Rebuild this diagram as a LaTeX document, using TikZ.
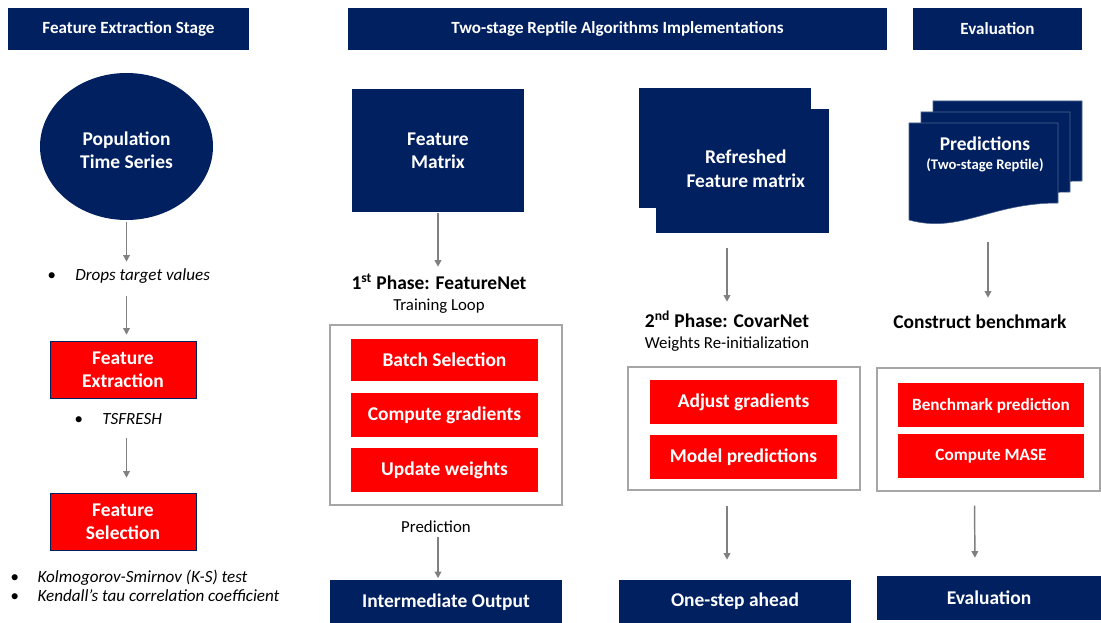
\documentclass[tikz,border=0pt]{standalone}
\usepackage{fontspec}
\setmainfont{Carlito}
\usetikzlibrary{arrows.meta,shapes.geometric}

\definecolor{navy}{RGB}{0,32,96}
\definecolor{arrgray}{RGB}{128,128,128}
\definecolor{boxgray}{RGB}{166,166,166}

\begin{document}
\begin{tikzpicture}[x=0.75pt, y=-0.75pt,
    header/.style={rectangle, fill=navy, text=white, minimum height=31.5pt,
      font=\fontsize{12.8}{15}\selectfont\bfseries},
    navybox/.style={rectangle, fill=navy, text=white, align=center,
      font=\fontsize{14.6}{17.5}\selectfont\bfseries},
    redbox/.style={rectangle, fill=red, text=white, align=center,
      font=\fontsize{14.6}{17.5}\selectfont\bfseries},
    loopbox/.style={rectangle, draw=boxgray, line width=0.8pt},
    phase/.style={inner sep=0, text height=10pt, text depth=3pt,
      font=\fontsize{14.6}{17.5}\selectfont\bfseries},
    sub/.style={inner sep=0, text height=9pt, text depth=3pt,
      font=\fontsize{12.6}{15}\selectfont},
    bullet/.style={inner sep=0, anchor=west, text height=9pt, text depth=3pt,
      font=\fontsize{12.8}{15}\selectfont\itshape},
    arr/.style={draw=arrgray, line width=1.1pt, -{Triangle[length=5pt, width=5pt]}}
  ]
    \useasboundingbox (0,0) rectangle (1101,623);

    % stage titles
    \node[header, minimum width=180.75pt] (h1) at (128.5,29) {Feature Extraction Stage};
    \node[header, minimum width=404.25pt] (h2) at (617.5,29) {Two-stage Reptile Algorithms Implementations};
    \node[header, minimum width=126.75pt] (h3) at (997.5,29) {Evaluation};

    % feature extraction stage
    \node[ellipse, fill=navy, minimum width=129.75pt, minimum height=110.25pt] (pop) at (126.5,146.5) {};
    \node[text=white, align=center, font=\fontsize{14.6}{17.5}\selectfont\bfseries] (poptext) at (126.5,150) {Population\\Time Series};
    \node[bullet] (drops) at (47,277) {\makebox[21pt][l]{\textbullet}Drops target values};
    \node[redbox, draw=navy, minimum width=109.5pt, minimum height=42.75pt] (fext) at (123,369.5) {Feature\\Extraction};
    \node[bullet] (tsf) at (74,421) {\makebox[21pt][l]{\textbullet}TSFRESH};
    \node[redbox, draw=navy, minimum width=109.5pt, minimum height=42.75pt] (fsel) at (123,521.5) {Feature\\Selection};
    \node[bullet, align=left, font=\fontsize{12.8}{14.25}\selectfont\itshape, text height=, text depth=] (tests) at (10,585.5)
      {\makebox[20.5pt][l]{\textbullet}Kolmogorov-Smirnov (K-S) test\\
       \makebox[20.5pt][l]{\textbullet}Kendall's tau correlation coefficient};

    \draw[arr, shorten <=1.5pt, shorten >=5.25pt] (pop.south) -- (pop.south |- drops.north);
    \draw[arr, shorten <=8.25pt, shorten >=4.5pt] (drops.south -| pop.south) -- (fext.north -| pop.south);
    \draw[arr, shorten <=6.75pt, shorten >=11.25pt] (tsf.south -| pop.south) -- (fsel.north -| pop.south);

    % first phase
    \node[navybox, minimum width=129pt, minimum height=92.25pt] (fmat) at (438,150.5) {Feature\\Matrix};
    \node[phase] (ph1) at (439,285) {1\textsuperscript{st} Phase: FeatureNet};
    \node[sub] (train) at (439,307) {Training Loop};
    \node[loopbox, minimum width=174pt, minimum height=135pt] (loop1) at (446,415) {};
    \node[redbox, minimum width=140.25pt, minimum height=32pt] (batch) at (444.5,360) {Batch Selection};
    \node[redbox, minimum width=140.25pt, minimum height=33pt] (grad) at (444.5,415.5) {Compute gradients};
    \node[redbox, minimum width=140.25pt, minimum height=33pt] (upd) at (444.5,470) {Update weights};
    \node[sub] (pred1) at (436,529) {Prediction};
    \node[navybox, minimum width=174pt, minimum height=32.25pt] (out1) at (446,602) {Intermediate Output};

    \draw[arr, shorten <=0.75pt, shorten >=7pt] (fmat.south) -- (fmat.south |- ph1.north);
    \draw[arr, shorten >=1.5pt] (pred1.south -| fmat.south) -- (out1.north -| fmat.south);

    % second phase
    \fill[navy] (639,88) rectangle (811,208);
    \node[navybox, minimum width=129.75pt, minimum height=93pt] (refmat) at (742.5,171)
      {\hspace*{5pt}\raisebox{3pt}{\begin{tabular}{@{}c@{}}Refreshed\\Feature matrix\end{tabular}}};
    \node[phase] (ph2) at (727,323) {2\textsuperscript{nd} Phase: CovarNet};
    \node[sub] (reinit) at (727,345) {Weights Re-initialization};
    \node[loopbox, minimum width=174pt, minimum height=92.25pt] (loop2) at (744,428.5) {};
    \node[redbox, minimum width=140.25pt, minimum height=33pt] (adj) at (743.5,402) {Adjust gradients};
    \node[redbox, minimum width=140.25pt, minimum height=33pt] (modp) at (743.5,457) {Model predictions};
    \node[navybox, minimum width=174pt, minimum height=32.25pt] (out2) at (735,601.5) {One-step ahead};

    \draw[arr, shorten <=11.25pt, shorten >=9.25pt] (refmat.south -| ph2.north) -- (ph2.north);
    \draw[arr, shorten <=11.25pt, shorten >=15pt] (loop2.south -| ph2.north) -- (out2.north -| ph2.north);

    % evaluation
    \foreach \dx/\dy in {24/-22, 12/-11, 0/0} {
      \fill[navy, draw=navy!70!white, line width=0.4pt, shift={(\dx,\dy)}]
        (909,123) -- (1058,123) -- (1058,203) .. controls (990,203) and (960,234) .. (909,220) -- cycle;
    }
    \node[text=white, align=center, font=\fontsize{14.6}{14.25}\selectfont\bfseries] (preds) at (985,154)
      {Predictions\\{\fontsize{11}{13}\selectfont (Two-stage Reptile)}};
    \coordinate (predfoot) at (988,242);
    \node[phase] (cb) at (980,324) {Construct benchmark};
    \node[loopbox, minimum width=167.25pt, minimum height=92.25pt] (loop3) at (988.5,429.5) {};
    \node[redbox, minimum width=139.5pt, minimum height=33pt, font=\fontsize{12.9}{15}\selectfont\bfseries] (bmp) at (991,405.5) {Benchmark prediction};
    \node[redbox, minimum width=139.5pt, minimum height=33pt, font=\fontsize{12.9}{15}\selectfont\bfseries] (mase) at (991,456) {Compute MASE};
    \node[navybox, minimum width=168pt, minimum height=33pt] (eval) at (989,598) {Evaluation};

    \draw[arr, shorten >=13pt] (predfoot) -- (predfoot |- cb.north);
    \draw[arr, shorten <=10.5pt, shorten >=13.5pt] ([xshift=-10.5pt]loop3.south) -- ([xshift=-10.5pt]eval.north);
  \end{tikzpicture}
\end{document}
